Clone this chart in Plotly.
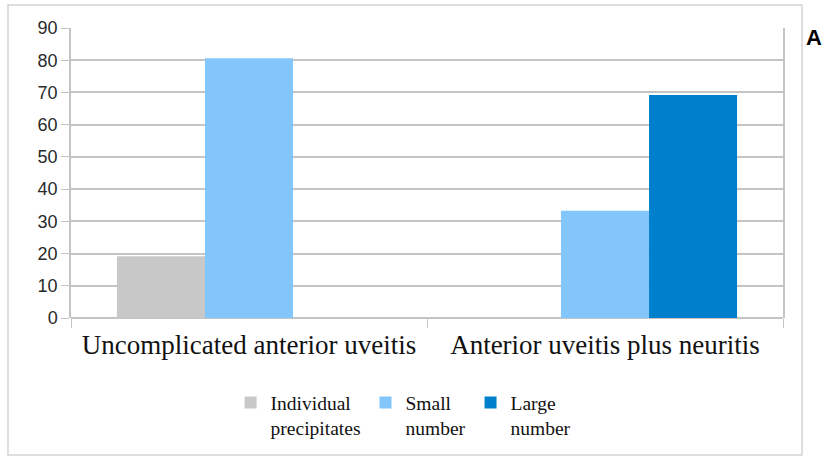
import plotly.graph_objects as go

categories = ["Uncomplicated anterior uveitis", "Anterior uveitis plus neuritis"]
series_names = ["Individual<br>precipitates", "Small<br>number", "Large<br>number"]
individual = [19.2, None]
small = [80.6, 33.3]
large = [None, 69.2]
colors = ["#c8c8c8", "#82c6fc", "#0080cc"]
y_ticks = [0, 10, 20, 30, 40, 50, 60, 70, 80, 90]

fig = go.Figure()
for name, vals, col in zip(series_names, [individual, small, large], colors):
    fig.add_trace(go.Bar(x=categories, y=vals, name=name, marker=dict(color=col, line=dict(width=0))))

grid = "#c4c4c4"
fig.update_layout(
    width=822, height=459,
    margin=dict(l=71, r=39, t=28, b=141, autoexpand=False),
    paper_bgcolor="white", plot_bgcolor="white",
    barmode="group", bargap=0.258, bargroupgap=0,
    showlegend=True,
    legend=dict(orientation="h", xref="container", yref="container",
                x=0.491, xanchor="center", y=0.165, yanchor="top",
                valign="top",
                font=dict(family="Liberation Serif", size=19.5, color="#111111"),
                itemwidth=30, traceorder="normal", bgcolor="rgba(0,0,0,0)"),
    xaxis=dict(type="category", tickson="boundaries", ticks="outside", ticklen=9, tickcolor=grid,
               showline=False, showgrid=False, ticklabelstandoff=8,
               tickfont=dict(family="Liberation Serif", size=27, color="#111111")),
    yaxis=dict(range=[0, 90], tickvals=y_ticks, showgrid=True, gridcolor=grid, gridwidth=1.5,
               showline=True, linecolor=grid, linewidth=1.5, mirror=True,
               ticks="outside", ticklen=8, tickcolor=grid, zeroline=True, zerolinecolor=grid,
               tickfont=dict(family="Liberation Sans", size=18, color="#2a2a2a")),
    shapes=[dict(type="rect", xref="paper", yref="paper", x0=-0.0885, x1=1.0267, y0=-0.472, y1=1.079,
                 line=dict(color="#d4d4d4", width=1.5), layer="below")],
    annotations=[dict(text="<b>A</b>", xref="paper", yref="paper", x=1.0295, y=0.967,
                      xanchor="left", yanchor="middle", showarrow=False,
                      font=dict(family="Liberation Sans", size=22, color="#000000"))],
)

fig.write_html("out.html", config={"displayModeBar": False},
               post_script="document.body.style.margin='0px';document.body.style.padding='0px';")
